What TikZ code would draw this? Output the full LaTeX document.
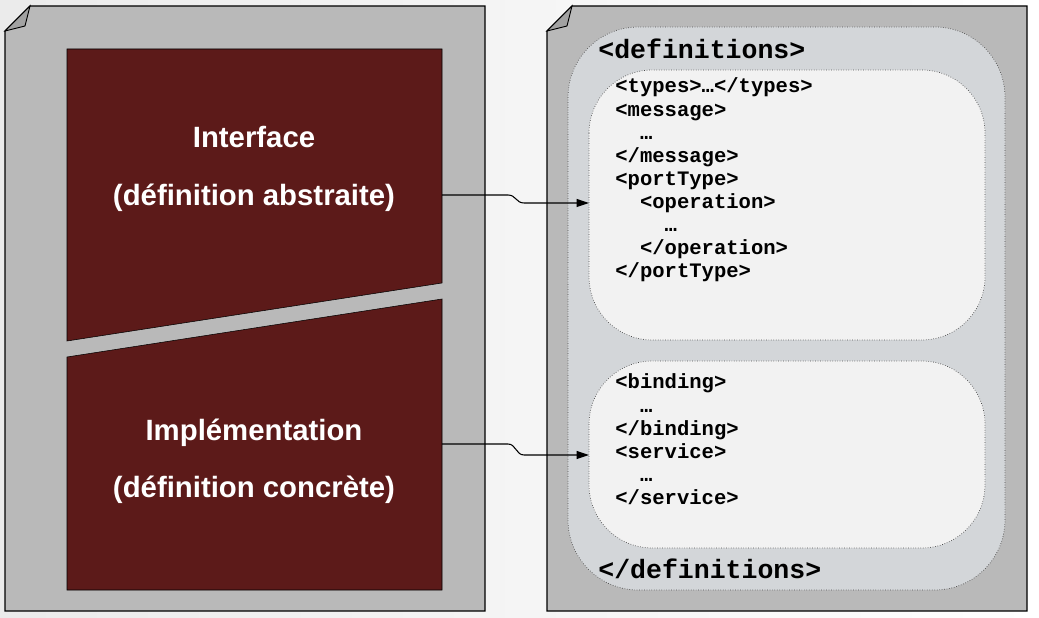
\documentclass[tikz,border=0pt]{standalone}
\usepackage{fontspec}
\setmainfont{Liberation Sans}
\setmonofont{Liberation Mono}
\usepackage{xcolor}
\usetikzlibrary{arrows.meta, calc}

\definecolor{pagegray}{HTML}{B9B9B9}
\definecolor{foldgray}{HTML}{A2A2A2}
\definecolor{wine}{HTML}{5C1A19}
\definecolor{defgray}{HTML}{D3D6D9}
\definecolor{codebg}{HTML}{F2F2F2}

\begin{document}
\begin{tikzpicture}[x=0.02cm, y=-0.02cm,
    page/.style={draw=black, fill=pagegray, line width=0.7pt},
    fold/.style={draw=black, fill=foldgray, line width=0.5pt},
    part/.style={draw=black, fill=wine, line width=0.3pt},
    label/.style={text=white, font=\fontsize{16.7}{20}\selectfont\bfseries, anchor=base, inner sep=0pt},
    roundbox/.style={draw=black!70, densely dotted, line width=0.4pt},
    codeline/.style={font=\fontsize{11.7}{13}\selectfont\ttfamily\bfseries, anchor=base west, inner sep=0pt},
    tagline/.style={font=\fontsize{15.1}{17}\selectfont\ttfamily\bfseries, anchor=base west, inner sep=0pt},
    conn/.style={-{Triangle[length=7pt, width=4.5pt]}, line width=0.6pt}]
    \useasboundingbox (0,0) rectangle (1039,618);

    % Fond
    \shade[left color=black!8, right color=white] (0,0) rectangle (1039,618);

    % Page gauche
    \draw[page] (5,31) -- (30,6) -- (485,6) -- (485,611) -- (5,611) -- cycle;
    \draw[fold] (5,31) -- (30,6) -- (25,26) -- cycle;

    % Interface / Implementation
    \draw[part] (67,49) -- (442,49) -- (442,283) -- (67,341) -- cycle;
    \draw[part] (67,357) -- (442,299) -- (442,590) -- (67,590) -- cycle;
    \node[label] (iface) at (254,148) {Interface};
    \node[label] (abstr) at (254,206) {(définition abstraite)};
    \node[label] (impl) at (254,440) {Implémentation};
    \node[label] (concr) at (254,498) {(définition concrète)};
    \coordinate (absout) at (442,195);
    \coordinate (conout) at (442,444);

    % Page droite
    \draw[page] (547,31) -- (572,6) -- (1027,6) -- (1027,611) -- (547,611) -- cycle;
    \draw[fold] (547,31) -- (572,6) -- (567,26) -- cycle;

    % Boites arrondies
    \draw[roundbox, fill=defgray, rounded corners=40] (568,27) rectangle (1005,590);
    \draw[roundbox, fill=codebg, rounded corners=36] (589,70) rectangle (985,340);
    \draw[roundbox, fill=codebg, rounded corners=36] (589,361) rectangle (985,548);
    \coordinate (absin) at (589,203);
    \coordinate (conin) at (589,455);

    % Balises
    \node[tagline] (defopen) at (598,59) {<definitions>};
    \node[tagline] (defclose) at (598,579) {</definitions>};

    % Code abstrait
    \foreach \txt [count=\n] in {<types>…</types>, <message>, \ \ …, </message>, <portType>,
        \ \ <operation>, \ \ \ \ …, \ \ </operation>, </portType>}
        \node[codeline] (abs\n) at (615,{93+23.1*(\n-1)}) {\txt};

    % Code concret
    \foreach \txt [count=\n] in {<binding>, \ \ …, </binding>, <service>, \ \ …, </service>}
        \node[codeline] (con\n) at (615,{389+23.1*(\n-1)}) {\txt};

    % Fleches
    \draw[conn] (absout) -- ++(66,0) .. controls +(8,0) and +(-8,0) .. ++(16,8) -- (absin);
    \draw[conn] (conout) -- ++(66,0) .. controls +(8,0) and +(-8,0) .. ++(16,11) -- (conin);
\end{tikzpicture}
\end{document}
